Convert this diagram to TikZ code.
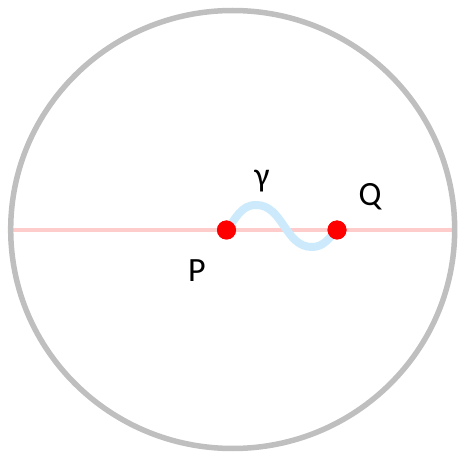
\documentclass[tikz,border=0pt]{standalone}
\usepackage{fontspec}
\setmainfont{Carlito}
\definecolor{rimgray}{RGB}{191,191,191}
\definecolor{axispink}{RGB}{255,204,204}
\definecolor{pathblue}{RGB}{204,234,252}
\begin{document}
\begin{tikzpicture}[x=1pt,y=1pt]
\tikzstyle{every node}+=[inner sep=0pt]
\tikzstyle{point}=[circle,fill=red,minimum size=19pt]
\tikzstyle{lbl}=[font=\fontsize{34}{40}\selectfont]
\useasboundingbox (0,0) rectangle (459,-452);
\draw [axispink, line width=4pt] (12,-230) -- (453,-230);
\draw [rimgray, line width=5.5pt] (232.7,-229.5) ellipse (222 and 219);
\node [point] (P) at (226.5,-230) {};
\node [point] (Q) at (337,-230) {};
\coordinate (top) at (256,-205);
\coordinate (bottom) at (312,-247);
\draw [pathblue, line width=8pt, line cap=round] (P.center) to[out=50,in=180] (top)
  to[out=0,in=180] (bottom) to[out=0,in=-135] (Q.center);
\node [point] at (P) {};
\node [point] at (Q) {};
\node [lbl] (Plbl) at (197,-271) {P};
\node [lbl] (Qlbl) at (370,-197) {Q};
\node [lbl] (glbl) at (262,-181) {γ};
\end{tikzpicture}
\end{document}
